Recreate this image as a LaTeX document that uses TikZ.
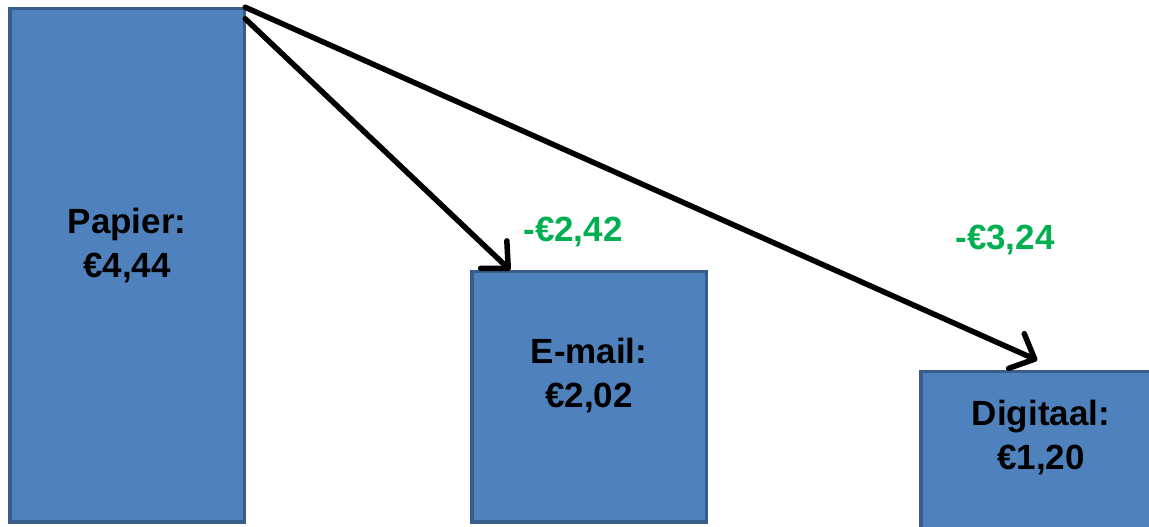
\documentclass[tikz,border=0pt]{standalone}
\usepackage{fontspec}
\setmainfont{Liberation Sans}
\usetikzlibrary{arrows.meta,calc}
\definecolor{barfill}{HTML}{4F81BD}
\definecolor{barline}{HTML}{385D8A}
\definecolor{savegreen}{HTML}{00B050}
\begin{document}
\begin{tikzpicture}[x=1pt,y=1pt,
 bar/.style={draw=barline, line width=3.5pt, fill=barfill, inner sep=0pt, outer sep=0pt, anchor=north west},
 lbl/.style={font=\fontsize{35}{44}\selectfont\bfseries, align=center, text=black},
 save/.style={font=\fontsize{35}{44}\selectfont\bfseries, text=savegreen},
 arr/.style={line width=5.5pt, line cap=round, -{Straight Barb[length=20pt, width=38pt, round]}}]
\useasboundingbox (0,0) rectangle (1149,527);
\fill[white] (0,0) rectangle (1149,527);
\node[bar, minimum width=234.5pt, minimum height=513.5pt] (papier) at (9.75,518.25) {};
\node[bar, minimum width=234.5pt, minimum height=250.5pt] (email) at (471.75,255.25) {};
\node[bar, minimum width=245pt, minimum height=157pt] (digitaal) at (920.75,155.25) {};
\node[lbl] (papiertxt) at (127,281) {Papier:\\€4,44};
\node[lbl] (emailtxt) at (589,151) {E-mail:\\€2,02};
\node[lbl] (digitaaltxt) at (1041,89) {Digitaal:\\€1,20};
\node[save] (save1) at (573,295) {-€2,42};
\node[save] (save2) at (1005,287) {-€3,24};
\coordinate (tip1) at ($(email.north west)+(38.5,1.5)$);
\coordinate (tip2) at ($(digitaal.north west)+(116.5,11.5)$);
\draw[arr] ($(papier.north east)+(1,-10)$) -- (tip1);
\draw[arr] ($(papier.north east)+(1,1.5)$) -- (tip2);
\end{tikzpicture}
\end{document}
